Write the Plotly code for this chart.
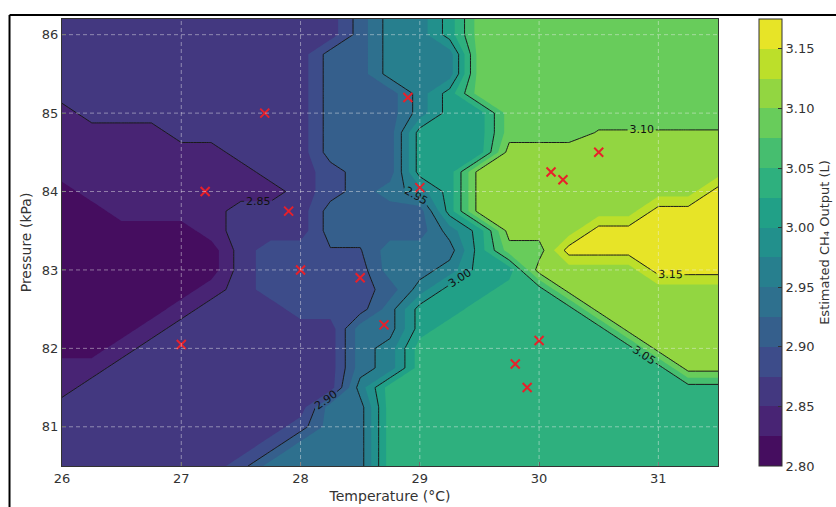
import plotly.graph_objects as go
from plotly.colors import sample_colorscale

# ---------------- data ----------------
temperature_axis = [26.0, 26.25, 26.5, 26.75, 27.0, 27.25, 27.5, 27.75, 28.0, 28.25, 28.5, 28.75,
                    29.0, 29.25, 29.5, 29.75, 30.0, 30.25, 30.5, 30.75, 31.0, 31.25, 31.5]
pressure_axis = [80.5, 80.75, 81.0, 81.25, 81.5, 81.75, 82.0, 82.25, 82.5, 82.75, 83.0, 83.25,
                 83.5, 83.75, 84.0, 84.25, 84.5, 84.75, 85.0, 85.25, 85.5, 85.75, 86.0, 86.25]

# estimated CH4 output (L), one row per pressure value (bottom to top)
ch4_estimate = [
    [2.862, 2.862, 2.862, 2.862, 2.862, 2.862, 2.888, 2.938, 2.938, 2.938, 2.938, 3.038, 3.038, 3.038, 3.038, 3.038, 3.038, 3.038, 3.038, 3.038, 3.038, 3.038, 3.038],
    [2.862, 2.862, 2.862, 2.862, 2.862, 2.862, 2.862, 2.888, 2.938, 2.938, 2.938, 3.038, 3.038, 3.038, 3.038, 3.038, 3.038, 3.038, 3.038, 3.038, 3.038, 3.038, 3.038],
    [2.862, 2.862, 2.862, 2.862, 2.862, 2.862, 2.862, 2.862, 2.888, 2.938, 2.938, 3.038, 3.038, 3.038, 3.038, 3.038, 3.038, 3.038, 3.038, 3.038, 3.038, 3.038, 3.038],
    [2.862, 2.862, 2.862, 2.862, 2.862, 2.862, 2.862, 2.862, 2.862, 2.938, 2.938, 3.038, 3.038, 3.038, 3.038, 3.038, 3.038, 3.038, 3.038, 3.038, 3.038, 3.038, 3.038],
    [2.838, 2.862, 2.862, 2.862, 2.862, 2.862, 2.862, 2.862, 2.862, 2.862, 2.962, 3.038, 3.038, 3.038, 3.038, 3.038, 3.038, 3.038, 3.038, 3.038, 3.038, 3.038, 3.038],
    [2.838, 2.838, 2.862, 2.862, 2.862, 2.862, 2.862, 2.862, 2.862, 2.862, 2.938, 2.962, 3.038, 3.038, 3.038, 3.038, 3.038, 3.038, 3.038, 3.038, 3.038, 3.112, 3.112],
    [2.812, 2.812, 2.838, 2.862, 2.862, 2.862, 2.862, 2.862, 2.862, 2.862, 2.938, 2.962, 3.038, 3.038, 3.038, 3.038, 3.038, 3.038, 3.038, 3.038, 3.112, 3.112, 3.112],
    [2.812, 2.812, 2.812, 2.838, 2.862, 2.862, 2.862, 2.862, 2.862, 2.862, 2.938, 2.938, 3.012, 3.038, 3.038, 3.038, 3.038, 3.038, 3.038, 3.112, 3.112, 3.112, 3.112],
    [2.812, 2.812, 2.812, 2.812, 2.838, 2.862, 2.862, 2.862, 2.888, 2.888, 2.888, 2.938, 3.012, 3.012, 3.038, 3.038, 3.038, 3.038, 3.112, 3.112, 3.112, 3.112, 3.112],
    [2.812, 2.812, 2.812, 2.812, 2.812, 2.838, 2.862, 2.888, 2.888, 2.888, 2.888, 2.912, 2.962, 3.012, 3.012, 3.038, 3.038, 3.112, 3.112, 3.112, 3.112, 3.112, 3.112],
    [2.812, 2.812, 2.812, 2.812, 2.812, 2.812, 2.862, 2.888, 2.888, 2.888, 2.888, 2.938, 2.938, 2.962, 3.012, 3.012, 3.112, 3.112, 3.112, 3.112, 3.162, 3.162, 3.162],
    [2.812, 2.812, 2.812, 2.812, 2.812, 2.812, 2.862, 2.888, 2.888, 2.898, 2.898, 2.938, 2.938, 2.938, 3.012, 3.088, 3.088, 3.162, 3.162, 3.162, 3.162, 3.162, 3.162],
    [2.812, 2.812, 2.812, 2.812, 2.812, 2.838, 2.862, 2.862, 2.862, 2.912, 2.912, 2.912, 2.912, 2.962, 3.012, 3.112, 3.112, 3.112, 3.162, 3.162, 3.162, 3.162, 3.162],
    [2.812, 2.812, 2.838, 2.838, 2.838, 2.838, 2.862, 2.862, 2.862, 2.912, 2.912, 2.912, 2.912, 3.012, 3.112, 3.112, 3.112, 3.112, 3.112, 3.112, 3.162, 3.162, 3.162],
    [2.812, 2.838, 2.838, 2.838, 2.838, 2.838, 2.838, 2.838, 2.862, 2.888, 2.912, 2.938, 2.962, 3.012, 3.112, 3.112, 3.112, 3.112, 3.112, 3.112, 3.112, 3.112, 3.162],
    [2.838, 2.838, 2.838, 2.838, 2.838, 2.838, 2.838, 2.862, 2.862, 2.888, 2.912, 2.912, 3.012, 3.012, 3.112, 3.112, 3.112, 3.112, 3.112, 3.112, 3.112, 3.112, 3.112],
    [2.838, 2.838, 2.838, 2.838, 2.838, 2.838, 2.862, 2.862, 2.862, 2.912, 2.912, 2.912, 3.012, 3.012, 3.012, 3.112, 3.112, 3.112, 3.112, 3.112, 3.112, 3.112, 3.112],
    [2.838, 2.838, 2.838, 2.838, 2.862, 2.862, 2.862, 2.862, 2.862, 2.912, 2.912, 2.912, 3.012, 3.012, 3.012, 3.088, 3.088, 3.088, 3.102, 3.102, 3.102, 3.102, 3.102],
    [2.838, 2.862, 2.862, 2.862, 2.862, 2.862, 2.862, 2.862, 2.862, 2.912, 2.912, 2.912, 2.962, 3.012, 3.012, 3.088, 3.088, 3.088, 3.088, 3.088, 3.088, 3.088, 3.088],
    [2.862, 2.862, 2.862, 2.862, 2.862, 2.862, 2.862, 2.862, 2.862, 2.912, 2.912, 2.912, 2.962, 3.012, 3.088, 3.088, 3.088, 3.088, 3.088, 3.088, 3.088, 3.088, 3.088],
    [2.862, 2.862, 2.862, 2.862, 2.862, 2.862, 2.862, 2.862, 2.862, 2.912, 2.912, 2.962, 2.962, 2.962, 3.088, 3.088, 3.088, 3.088, 3.088, 3.088, 3.088, 3.088, 3.088],
    [2.862, 2.862, 2.862, 2.862, 2.862, 2.862, 2.862, 2.862, 2.862, 2.912, 2.912, 2.962, 2.962, 2.962, 3.088, 3.088, 3.088, 3.088, 3.088, 3.088, 3.088, 3.088, 3.088],
    [2.862, 2.862, 2.862, 2.862, 2.862, 2.862, 2.862, 2.862, 2.862, 2.862, 2.912, 2.962, 2.962, 3.012, 3.088, 3.088, 3.088, 3.088, 3.088, 3.088, 3.088, 3.088, 3.088],
    [2.862, 2.862, 2.862, 2.862, 2.862, 2.862, 2.862, 2.862, 2.862, 2.862, 2.912, 2.962, 2.962, 3.012, 3.088, 3.088, 3.088, 3.088, 3.088, 3.088, 3.088, 3.088, 3.088],
]

# measured sample points (red crosses)
sample_temperature = [27.7, 27.2, 27.9, 28.0, 28.5, 27.0, 28.7, 28.9, 29.0, 30.1, 30.2, 30.5, 30.0, 29.8, 29.9]
sample_pressure = [85.0, 84.0, 83.75, 83.0, 82.9, 82.05, 82.3, 85.2, 84.05, 84.25, 84.15, 84.5, 82.1, 81.8, 81.5]

colorbar_ticks = [2.80, 2.85, 2.90, 2.95, 3.00, 3.05, 3.10, 3.15]
x_ticks = [26, 27, 28, 29, 30, 31]
y_ticks = [81, 82, 83, 84, 85, 86]

# ---------------- styling ----------------
FONT = "DejaVu Sans"
TXT = "#333333"
N_BANDS = 15
band_colors = sample_colorscale("Viridis", [(i + 0.5) / N_BANDS for i in range(N_BANDS)])

# contour fill: plotly samples band i at position (i+1)/16
fill_scale = [[0.0, band_colors[0]]]
for i, c in enumerate(band_colors):
    fill_scale.append([(i + 1) / (N_BANDS + 1), c])
fill_scale.append([1.0, band_colors[-1]])

# stepped scale for the colorbar (2.800 .. 3.175)
bar_scale = []
for i, c in enumerate(band_colors):
    bar_scale.append([i / N_BANDS, c])
    bar_scale.append([(i + 1) / N_BANDS, c])

fig = go.Figure()

fig.add_trace(go.Contour(
    x=temperature_axis, y=pressure_axis, z=ch4_estimate,
    autocontour=False,
    contours=dict(start=2.8, end=3.175, size=0.025, coloring="fill", showlines=False),
    line=dict(width=0, smoothing=0),
    colorscale=fill_scale, zmin=2.7875, zmax=3.1875,
    showscale=False, hoverinfo="skip",
))

fig.add_trace(go.Contour(
    x=temperature_axis, y=pressure_axis, z=ch4_estimate,
    autocontour=False,
    contours=dict(start=2.85, end=3.15, size=0.05, coloring="none",
                  showlabels=True, labelformat=".2f",
                  labelfont=dict(family=FONT, size=11, color="#111111")),
    line=dict(width=1, color="#1a1a1a", smoothing=0),
    showscale=False, hoverinfo="skip",
))

fig.add_trace(go.Scatter(
    x=sample_temperature, y=sample_pressure, mode="markers",
    marker=dict(symbol="x-thin", size=9, line=dict(width=2, color="#e8202a")),
    showlegend=False, hoverinfo="skip",
))

fig.add_trace(go.Scatter(
    x=[None], y=[None], mode="markers",
    marker=dict(color=[2.8], cmin=2.8, cmax=3.175, colorscale=bar_scale, showscale=True,
                colorbar=dict(
                    x=1.0625, xanchor="left", xpad=0, y=0.5, yanchor="middle", ypad=0,
                    len=1.0, lenmode="fraction", thickness=23, thicknessmode="pixels",
                    outlinewidth=1, outlinecolor="#333333",
                    tickvals=colorbar_ticks, tickformat=".2f",
                    ticks="inside", ticklen=4, tickcolor="#333333",
                    tickfont=dict(family=FONT, size=13, color=TXT),
                    title=dict(text="Estimated CH₄ Output (L)", side="right",
                               font=dict(family=FONT, size=13, color=TXT)),
                )),
    showlegend=False, hoverinfo="skip",
))

shapes = []
grid_line = dict(color="rgba(240,240,240,0.45)", width=1, dash="4px,3px")
for xv in x_ticks[1:]:
    shapes.append(dict(type="line", xref="x", yref="paper", x0=xv, x1=xv, y0=0, y1=1,
                       layer="above", line=grid_line))
for yv in y_ticks:
    shapes.append(dict(type="line", xref="paper", yref="y", x0=0, x1=1, y0=yv, y1=yv,
                       layer="above", line=grid_line))
# outer frame (left and top edges)
shapes.append(dict(type="line", xref="paper", yref="paper", x0=-0.08, x1=-0.08, y0=-0.1, y1=1.009,
                   line=dict(color="black", width=2)))
shapes.append(dict(type="line", xref="paper", yref="paper", x0=-0.08, x1=1.2, y0=1.009, y1=1.009,
                   line=dict(color="black", width=2)))

axis_common = dict(showline=True, mirror=True, linecolor="#333333", linewidth=1,
                   ticks="inside", ticklen=4, tickcolor="#333333", showgrid=False, zeroline=False,
                   automargin=False, tickfont=dict(family=FONT, size=13, color=TXT))

fig.update_layout(
    width=836, height=507,
    margin=dict(l=62, r=118, t=19, b=41, autoexpand=False),
    paper_bgcolor="white", plot_bgcolor="white",
    font=dict(family=FONT, size=13, color=TXT),
    showlegend=False,
    shapes=shapes,
    xaxis=dict(range=[26, 31.5], tickvals=x_ticks,
               title=dict(text="Temperature (°C)", standoff=6, font=dict(family=FONT, size=14, color=TXT)),
               **axis_common),
    yaxis=dict(range=[80.5, 86.2], tickvals=y_ticks,
               title=dict(text="Pressure (kPa)", standoff=6, font=dict(family=FONT, size=14, color=TXT)),
               **axis_common),
)

fig.write_html("out.html", config={"displayModeBar": False},
               post_script="document.body.style.margin='0px';")
